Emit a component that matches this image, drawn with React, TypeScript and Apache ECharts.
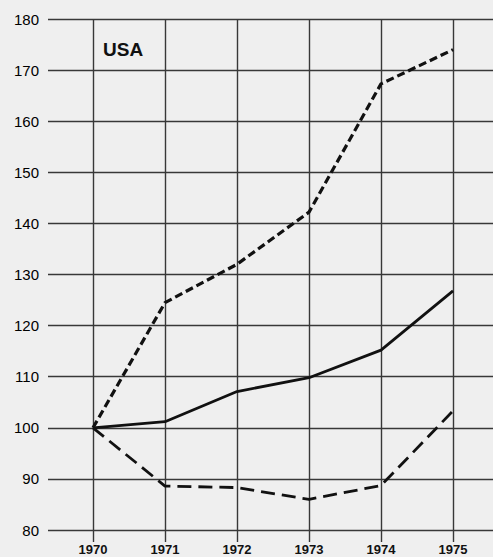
import React, { useEffect, useRef } from "react";
import * as echarts from "echarts";

const years = ["1970", "1971", "1972", "1973", "1974", "1975"];
const shortDashed = [100, 124.5, 132, 142.2, 167.3, 174];
const solid = [100, 101.2, 107.1, 109.8, 115.2, 126.8];
const longDashed = [100, 88.6, 88.3, 86, 88.7, 103.3];
const yMin = 80;
const yMax = 180;
const title = "USA";

export default function App() {
  const ref = useRef<HTMLDivElement>(null);
  useEffect(() => {
    if (!ref.current) return;
    const chart = echarts.init(ref.current, undefined, { renderer: "svg" });
    const lineColor = "#383838";
    chart.setOption({
      animation: false,
      backgroundColor: "#efefef",
      textStyle: { fontFamily: "Liberation Sans, Arial, sans-serif" },
      grid: [
        { left: 48, right: 0, top: 19, bottom: 27 },
        { left: 93, right: 40, top: 19, bottom: 27 },
      ],
      graphic: [
        {
          type: "text",
          x: 103,
          y: 49,
          style: {
            text: title,
            font: "bold 19px 'Liberation Sans', Arial, sans-serif",
            fill: "#111",
            textVerticalAlign: "middle",
            verticalAlign: "middle",
          },
        },
      ],
      xAxis: [
        {
          type: "value",
          gridIndex: 0,
          min: 0,
          max: 1,
          show: false,
        },
        {
          type: "category",
          gridIndex: 1,
          data: years,
          boundaryGap: false,
          axisLine: { show: false },
          axisTick: {
            show: true,
            length: 12,
            lineStyle: { color: lineColor, width: 1.4 },
          },
          axisLabel: {
            color: "#111",
            fontSize: 13,
            fontWeight: "bold",
            margin: 13,
          },
          splitLine: {
            show: true,
            lineStyle: { color: lineColor, width: 1.4 },
          },
        },
      ],
      yAxis: [
        {
          type: "value",
          gridIndex: 0,
          min: yMin,
          max: yMax,
          interval: 10,
          axisLine: { show: false },
          axisTick: { show: false },
          axisLabel: { color: "#000", fontSize: 15, margin: 9 },
          splitLine: { show: true, lineStyle: { color: lineColor, width: 1.4 } },
        },
        {
          type: "value",
          gridIndex: 1,
          min: yMin,
          max: yMax,
          interval: 10,
          show: false,
          splitLine: { show: false },
        },
      ],
      series: [
        {
          type: "line",
          xAxisIndex: 1,
          yAxisIndex: 1,
          data: shortDashed,
          symbol: "none",
          lineStyle: { color: "#111", width: 3.2, type: [8, 4] },
        },
        {
          type: "line",
          xAxisIndex: 1,
          yAxisIndex: 1,
          data: solid,
          symbol: "none",
          lineStyle: { color: "#111", width: 2.8, type: "solid" },
        },
        {
          type: "line",
          xAxisIndex: 1,
          yAxisIndex: 1,
          data: longDashed,
          symbol: "none",
          lineStyle: { color: "#111", width: 2.8, type: [14, 7] },
        },
      ],
    });
    return () => chart.dispose();
  }, []);
  return (
    <div
      ref={ref}
      style={{ position: "fixed", left: 0, top: 0, width: 493, height: 557 }}
    />
  );
}
